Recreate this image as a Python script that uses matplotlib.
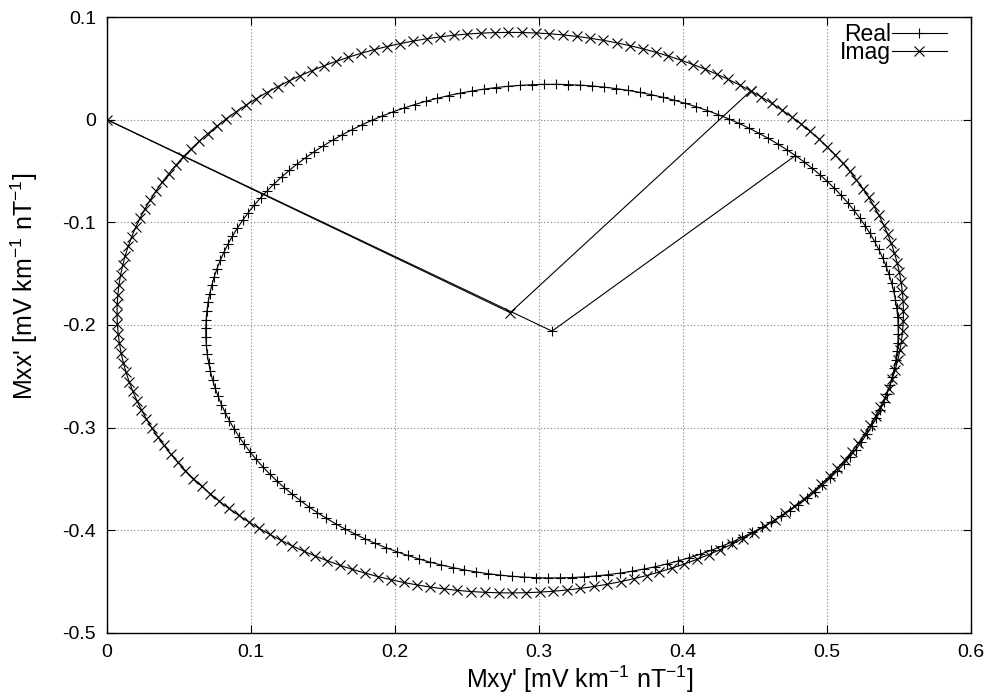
import numpy as np
import matplotlib
matplotlib.use("Agg")
import matplotlib.pyplot as plt

plt.rcParams['font.family'] = ['Liberation Sans', 'DejaVu Sans']
plt.rcParams['mathtext.fontset'] = 'custom'
plt.rcParams['mathtext.rm'] = 'Liberation Sans'

# tensor elements (value at 0 deg rotation)
real_M = [[-0.035, 0.478],
          [-0.140, -0.377]]   # [[Mxx, Mxy], [Myx, Myy]]
imag_M = [[0.028, 0.447],
          [-0.113, -0.404]]

# rotation angles, 1 degree steps
angles_deg = np.arange(0, 181, 1)

# both series begin at the origin, then the centre point, then the rotation
origin = (0.0, 0.0)

series_names = ['Real', 'Imag']
series_markers = ['+', 'x']

xticks = [0, 0.1, 0.2, 0.3, 0.4, 0.5, 0.6]
yticks = [0.1, 0, -0.1, -0.2, -0.3, -0.4, -0.5]


def rotated(M, deg):
    M = np.array(M)
    xs, ys = [], []
    for a in np.radians(deg):
        R = np.array([[np.cos(a), np.sin(a)], [-np.sin(a), np.cos(a)]])
        Mr = R @ M @ R.T
        xs.append(Mr[0, 1])
        ys.append(Mr[0, 0])
    return xs, ys


def centre(M):
    return (M[0][1] - M[1][0]) / 2.0, (M[0][0] + M[1][1]) / 2.0


fig = plt.figure(figsize=(9.87, 6.94), dpi=100)
ax = fig.add_axes([0.1084, 0.088, 0.8755, 0.8875])

for name, mk, M in zip(series_names, series_markers, [real_M, imag_M]):
    xs, ys = rotated(M, angles_deg)
    cx, cy = centre(M)
    px = [origin[0], cx] + xs
    py = [origin[1], cy] + ys
    ax.plot(px, py, color='black', lw=0.8, marker=mk, ms=7.5, mew=0.8,
            label=name)

ax.set_xlim(0, 0.6)
ax.set_ylim(-0.5, 0.1)
ax.set_xticks(xticks)
ax.set_yticks(yticks)
ax.set_xticklabels(['0', '0.1', '0.2', '0.3', '0.4', '0.5', '0.6'])
ax.set_yticklabels(['0.1', '0', '-0.1', '-0.2', '-0.3', '-0.4', '-0.5'])
ax.tick_params(direction='in', top=True, right=True, length=6, width=0.8,
               labelsize=14, pad=8)
ax.grid(True, color='#808080', linestyle=(0, (1, 2)), linewidth=0.8)
for s in ax.spines.values():
    s.set_linewidth(1.0)

# gnuplot puts the axis labels a bit off centre
ax.set_xlabel("Mxy' [mV km$^{-1}$ nT$^{-1}$]", fontsize=18)
ax.set_ylabel("Mxx' [mV km$^{-1}$ nT$^{-1}$]", fontsize=18)
ax.xaxis.set_label_coords(0.547, -0.049)
ax.yaxis.set_label_coords(-0.077, 0.563)

leg = ax.legend(loc='upper right', bbox_to_anchor=(0.988, 1.012),
                frameon=False, markerfirst=False,
                fontsize=16.5, handlelength=2.4, handletextpad=0.05,
                labelspacing=-0.22, borderaxespad=0.2)
for t in leg.get_texts():
    t.set_ha('right')

fig.savefig('out.png', dpi=100, facecolor='white')
